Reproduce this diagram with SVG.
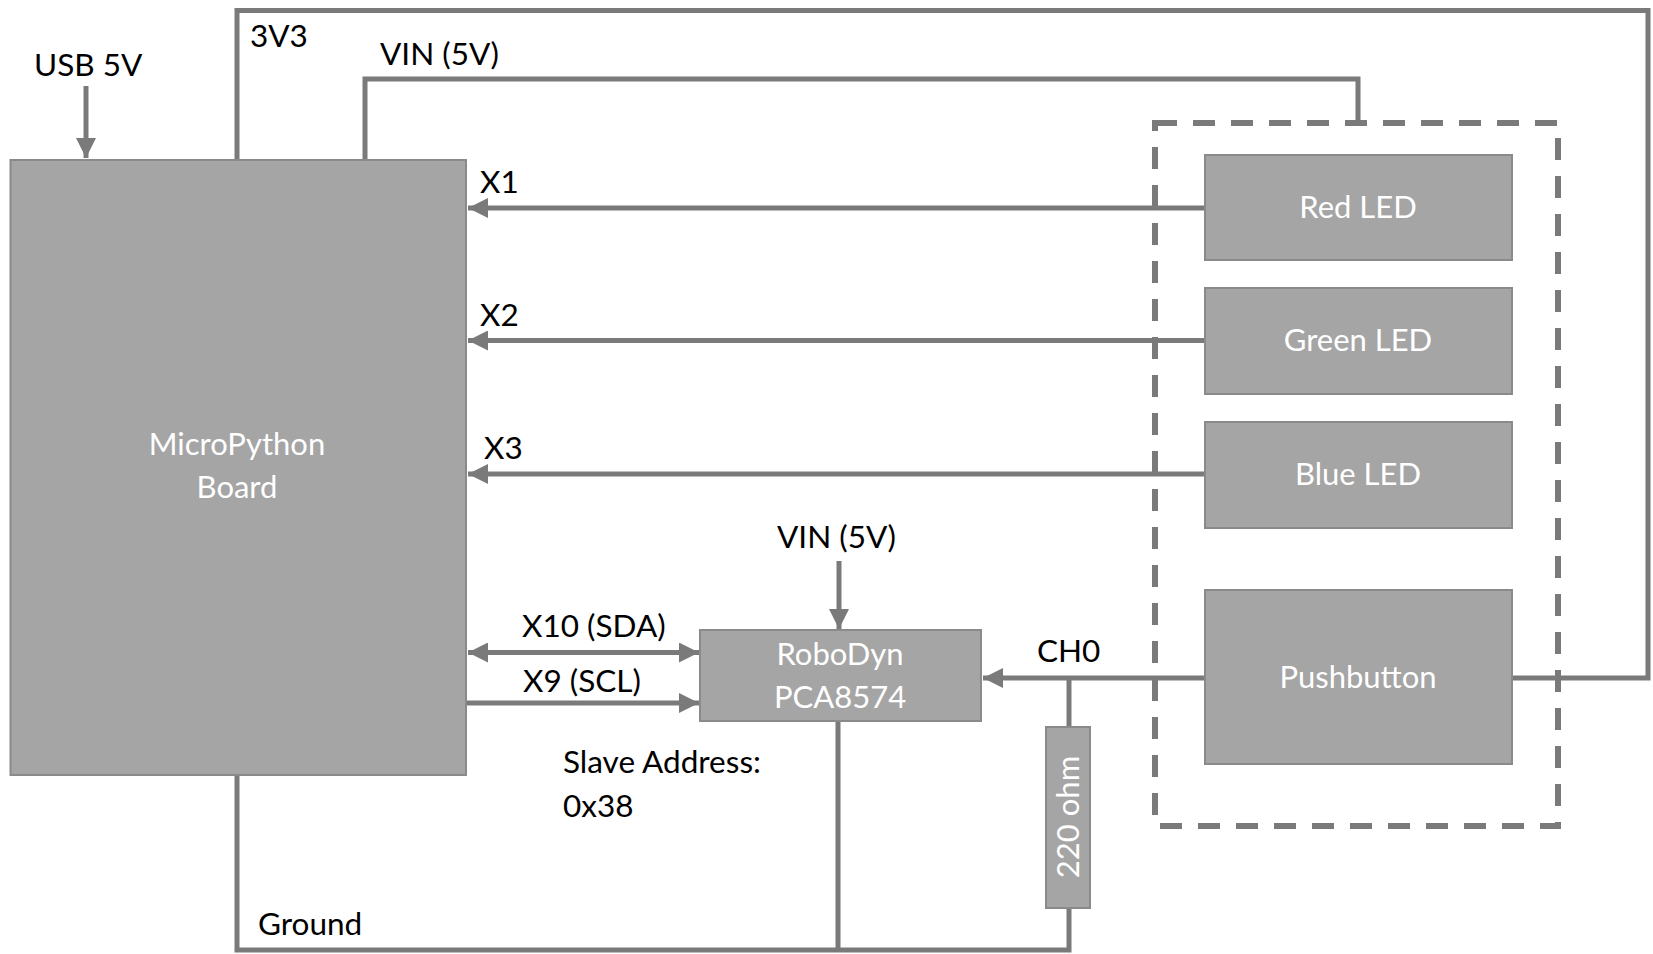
<svg xmlns="http://www.w3.org/2000/svg" width="1653" height="954" viewBox="0 0 1653 954">
<style>
.w{fill:none;stroke:#7a7a7a;stroke-width:5}
.box{fill:#a5a5a5;stroke:#8a8a8a;stroke-width:2}
.bt{font-family:Lato,"Open Sans",sans-serif;font-size:31px;fill:#ffffff;text-anchor:middle}
.lb{font-family:Lato,"Open Sans",sans-serif;font-size:31.5px;fill:#000000}
.dash{fill:none;stroke:#7a7a7a;stroke-width:6;stroke-dasharray:22 16}
</style>
<defs>
<marker id="ah" viewBox="0 0 10 10" refX="10" refY="5" markerWidth="4.4" markerHeight="4" orient="auto-start-reverse" markerUnits="strokeWidth">
<path d="M0,0 L10,5 L0,10 z" fill="#7a7a7a"/>
</marker>
</defs>
<rect width="1653" height="954" fill="#ffffff"/>
<g id="connectors">
<path class="w" d="M237,160 V10.5 H1648 V678 H1512"/>
<path class="w" d="M365,160 V79 H1358 V123"/>
<path class="w" d="M86,86 V158" marker-end="url(#ah)"/>
<path class="w" d="M1205,208 H468" marker-end="url(#ah)"/>
<path class="w" d="M1205,340.5 H468" marker-end="url(#ah)"/>
<path class="w" d="M1205,474 H468" marker-end="url(#ah)"/>
<path class="w" d="M839,561 V629" marker-end="url(#ah)"/>
<path class="w" d="M468,652.5 H699" marker-start="url(#ah)" marker-end="url(#ah)"/>
<path class="w" d="M466,703 H699" marker-end="url(#ah)"/>
<path class="w" d="M1205,678 H983" marker-end="url(#ah)"/>
<path class="w" d="M1069,678 V727"/>
<path class="w" d="M1069,908 V950 H237 V775"/>
<path class="w" d="M838,721 V950"/>
</g>
<g id="dashed-group">
<rect class="dash" x="1155" y="123" width="403" height="703"/>
</g>
<g id="board">
<rect class="box" x="10.5" y="160" width="455.5" height="615"/>
<text class="bt" x="237" y="455">MicroPython</text>
<text class="bt" x="237" y="498">Board</text>
</g>
<g id="red-led">
<rect class="box" x="1205" y="155" width="307" height="105"/>
<text class="bt" x="1358" y="218">Red LED</text>
</g>
<g id="green-led">
<rect class="box" x="1205" y="288" width="307" height="106"/>
<text class="bt" x="1358" y="351">Green LED</text>
</g>
<g id="blue-led">
<rect class="box" x="1205" y="422" width="307" height="106"/>
<text class="bt" x="1358" y="485">Blue LED</text>
</g>
<g id="pushbutton">
<rect class="box" x="1205" y="590" width="307" height="174"/>
<text class="bt" x="1358" y="688">Pushbutton</text>
</g>
<g id="robodyn">
<rect class="box" x="700" y="630" width="281" height="91"/>
<text class="bt" x="840" y="665">RoboDyn</text>
<text class="bt" x="840" y="708">PCA8574</text>
</g>
<g id="resistor">
<rect class="box" x="1046" y="727" width="44" height="181"/>
<text class="bt" transform="translate(1079,817) rotate(-90)">220 ohm</text>
</g>
<g id="labels">
<text class="lb" x="34" y="76">USB 5V</text>
<text class="lb" x="250" y="47">3V3</text>
<text class="lb" x="380" y="65">VIN (5V)</text>
<text class="lb" x="480" y="193">X1</text>
<text class="lb" x="480" y="326">X2</text>
<text class="lb" x="484" y="459">X3</text>
<text class="lb" x="777" y="548">VIN (5V)</text>
<text class="lb" x="522" y="637">X10 (SDA)</text>
<text class="lb" x="523" y="692">X9 (SCL)</text>
<text class="lb" x="1037" y="662">CH0</text>
<text class="lb" x="563" y="773">Slave Address:</text>
<text class="lb" x="563" y="817">0x38</text>
<text class="lb" x="258" y="935">Ground</text>
</g>
</svg>
